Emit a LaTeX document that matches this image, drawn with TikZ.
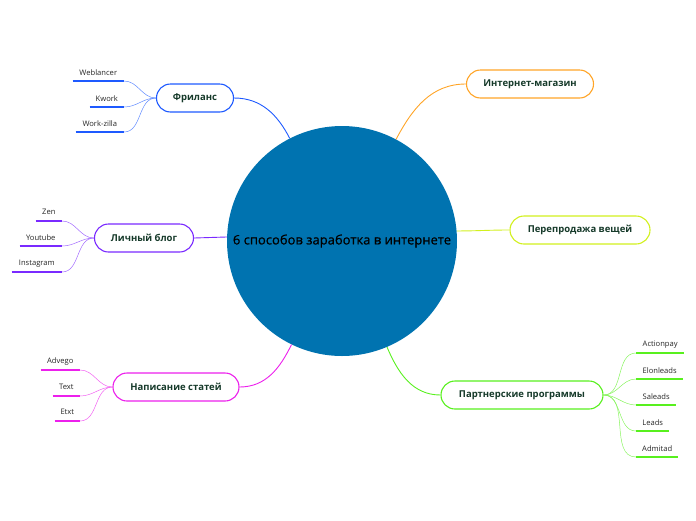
\documentclass[tikz,border=0pt]{standalone}
\usepackage{fontspec}
\setmainfont{Open Sans}
\newfontfamily\rootfont[FakeBold=0.7]{Open Sans}
\usepackage{xcolor}
\usetikzlibrary{positioning, calc}

\definecolor{rootblue}{RGB}{0,115,176}
\definecolor{txtdark}{RGB}{22,58,42}
\definecolor{cfree}{RGB}{30,90,255}
\definecolor{cblog}{RGB}{122,42,255}
\definecolor{cart}{RGB}{236,32,236}
\definecolor{cpart}{RGB}{88,240,30}
\definecolor{cshop}{RGB}{255,165,40}
\definecolor{cresale}{RGB}{210,240,30}

\begin{document}
\begin{tikzpicture}[
    x=1pt, y=-1pt,
    root/.style={
      circle, fill=rootblue, minimum size=230pt, inner sep=0pt,
      font=\rootfont\fontsize{13}{15}\selectfont, text=black
    },
    topic/.style={
      rectangle, rounded corners=14pt, draw=#1, line width=1.1pt, fill=white,
      minimum height=28pt, inner xsep=6pt,
      text centered, font=\fontsize{9.5}{11}\selectfont\bfseries, text=txtdark
    },
    leaf/.style={
      rectangle, inner sep=0pt, minimum height=17pt,
      font=\fontsize{7.6}{9}\selectfont, text=black!85
    },
    uline/.style={line width=1.8pt, draw=#1},
    link/.style={line width=0.9pt, draw=#1},
    sublink/.style={line width=0.5pt, draw=#1!70}
  ]
  \useasboundingbox (0,0) rectangle (696,520);

  % central topic
  \node[root] (c) at (342,241) {6 способов заработка в интернете};

  % main topics
  \node[topic=cfree, minimum width=77pt]    (free)   at (195,98)  {Фриланс};
  \node[topic=cblog, minimum width=99pt]    (blog)   at (144,238) {Личный блог};
  \node[topic=cart, minimum width=126pt]    (art)    at (176,387) {Написание статей};
  \node[topic=cpart, minimum width=162pt]   (part)   at (522,395) {Партнерские программы};
  \node[topic=cshop, minimum width=127pt]   (shop)   at (530,84)  {Интернет-магазин};
  \node[topic=cresale, minimum width=140pt] (resale) at (580,230) {Перепродажа вещей};

  \draw[link=cfree]   (c.117) to[out=117, in=0]   (free.east);
  \draw[link=cblog]   (c.178) -- (blog.east);
  \draw[link=cart]    (c.244) to[out=244, in=0]   (art.east);
  \draw[link=cpart]   (c.293) to[out=293, in=180] (part.west);
  \draw[link=cshop]   (c.62)  to[out=62, in=180]  (shop.west);
  \draw[link=cresale] (c.5)   to[out=0, in=180]   (resale.west);

  % leaves: Фриланс
  \node[leaf, minimum width=51pt, anchor=south east] (weblancer) at (124,81)  {Weblancer};
  \node[leaf, minimum width=34pt, anchor=south east] (kwork)     at (124,107) {Kwork};
  \node[leaf, minimum width=48pt, anchor=south east] (workzilla) at (124,132) {Work-zilla};

  % leaves: Личный блог
  \node[leaf, minimum width=26pt, anchor=south east] (zen)       at (62,221) {Zen};
  \node[leaf, minimum width=42pt, anchor=south east] (youtube)   at (62,246) {Youtube};
  \node[leaf, minimum width=50pt, anchor=south east] (instagram) at (62,272) {Instagram};

  % leaves: Написание статей
  \node[leaf, minimum width=39pt, anchor=south east] (advego) at (80,370) {Advego};
  \node[leaf, minimum width=27pt, anchor=south east] (text)   at (80,396) {Text};
  \node[leaf, minimum width=25pt, anchor=south east] (etxt)   at (80,421) {Etxt};

  % leaves: Партнерские программы
  \node[leaf, minimum width=48pt, anchor=south west] (actionpay) at (636,353) {Actionpay};
  \node[leaf, minimum width=47pt, anchor=south west] (elonleads) at (636,379) {Elonleads};
  \node[leaf, minimum width=40pt, anchor=south west] (saleads)   at (636,405) {Saleads};
  \node[leaf, minimum width=33pt, anchor=south west] (leads)     at (636,431) {Leads};
  \node[leaf, minimum width=42pt, anchor=south west] (admitad)   at (636,457) {Admitad};

  \foreach \n/\p/\col in {weblancer/free/cfree, kwork/free/cfree, workzilla/free/cfree,
      zen/blog/cblog, youtube/blog/cblog, instagram/blog/cblog,
      advego/art/cart, text/art/cart, etxt/art/cart} {
    \draw[uline=\col] (\n.south west) -- (\n.south east);
    \draw[sublink=\col] (\p.west) to[out=180, in=0] (\n.south east);
  }
  \foreach \n in {actionpay, elonleads, saleads, leads, admitad} {
    \draw[uline=cpart] (\n.south west) -- (\n.south east);
    \draw[sublink=cpart] (part.east) to[out=0, in=180] (\n.south west);
  }
\end{tikzpicture}
\end{document}
